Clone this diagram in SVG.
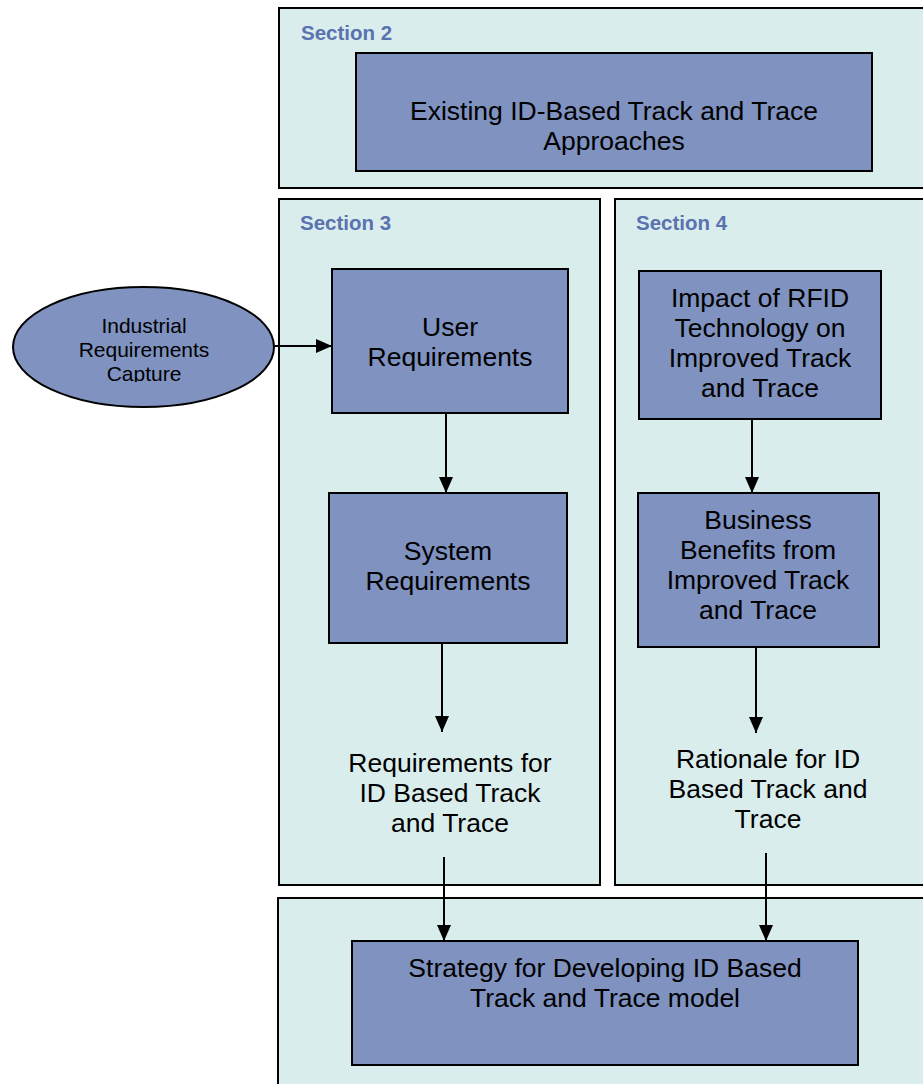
<svg xmlns="http://www.w3.org/2000/svg" width="923" height="1084" viewBox="0 0 923 1084">
<style>
.sec{fill:#d9eded;stroke:#000;stroke-width:2}
.box{fill:#7f92c0;stroke:#000;stroke-width:2}
.t{font-family:"Liberation Sans",Arial,sans-serif;font-size:26.5px;fill:#000;text-anchor:middle}
.ts{font-family:"Liberation Sans",Arial,sans-serif;font-size:21px;fill:#000;text-anchor:middle}
.st{font-family:"Liberation Sans",Arial,sans-serif;font-size:20.5px;font-weight:bold;fill:#5a72b0}
.c{stroke:#000;stroke-width:2;fill:none;marker-end:url(#ah)}
</style>
<defs>
<marker id="ah" viewBox="0 0 16 14" refX="16" refY="7" markerWidth="16" markerHeight="14" markerUnits="userSpaceOnUse" orient="auto">
<path d="M0,0 L16,7 L0,14 Z" fill="#000"/>
</marker>
<clipPath id="ec"><rect x="20" y="300" width="250" height="82"/></clipPath>
</defs>
<rect width="923" height="1084" fill="#fff"/>
<g id="section2">
<rect class="sec" x="279" y="8" width="660" height="180"/>
<text class="st" x="301" y="40">Section 2</text>
</g>
<g id="section3">
<rect class="sec" x="279" y="199" width="321" height="686"/>
<text class="st" x="300" y="230">Section 3</text>
</g>
<g id="section4">
<rect class="sec" x="615" y="199" width="330" height="686"/>
<text class="st" x="636" y="230">Section 4</text>
</g>
<g id="section5">
<rect class="sec" x="278" y="898" width="670" height="200"/>
</g>
<g id="existing">
<rect class="box" x="356" y="53" width="516" height="118"/>
<text class="t" x="614" y="120">Existing ID-Based Track and Trace</text>
<text class="t" x="614" y="150">Approaches</text>
</g>
<g id="industrial">
<ellipse class="box" cx="143.5" cy="347" rx="130.5" ry="60"/>
<g clip-path="url(#ec)">
<text class="ts" x="144" y="333">Industrial</text>
<text class="ts" x="144" y="357">Requirements</text>
<text class="ts" x="144" y="381">Capture</text>
</g>
</g>
<g id="user-req">
<rect class="box" x="332" y="269" width="236" height="144"/>
<text class="t" x="450" y="336">User</text>
<text class="t" x="450" y="366">Requirements</text>
</g>
<g id="system-req">
<rect class="box" x="329" y="493" width="238" height="150"/>
<text class="t" x="448" y="560">System</text>
<text class="t" x="448" y="590">Requirements</text>
</g>
<g id="req-idbased">
<text class="t" x="450" y="772">Requirements for</text>
<text class="t" x="450" y="802">ID Based Track</text>
<text class="t" x="450" y="832">and Trace</text>
</g>
<g id="impact">
<rect class="box" x="639" y="271" width="242" height="148"/>
<text class="t" x="760" y="307">Impact of RFID</text>
<text class="t" x="760" y="337">Technology on</text>
<text class="t" x="760" y="367">Improved Track</text>
<text class="t" x="760" y="397">and Trace</text>
</g>
<g id="business">
<rect class="box" x="638" y="493" width="241" height="154"/>
<text class="t" x="758" y="529">Business</text>
<text class="t" x="758" y="559">Benefits from</text>
<text class="t" x="758" y="589">Improved Track</text>
<text class="t" x="758" y="619">and Trace</text>
</g>
<g id="rationale">
<text class="t" x="768" y="768">Rationale for ID</text>
<text class="t" x="768" y="798">Based Track and</text>
<text class="t" x="768" y="828">Trace</text>
</g>
<g id="strategy">
<rect class="box" x="352" y="941" width="506" height="124"/>
<text class="t" x="605" y="977">Strategy for Developing ID Based</text>
<text class="t" x="605" y="1007">Track and Trace model</text>
</g>
<g id="connectors">
<path class="c" d="M274,346 L332,346"/>
<path class="c" d="M446,413 L446,493"/>
<path class="c" d="M442,643 L442,732"/>
<path class="c" d="M444,857 L444,941"/>
<path class="c" d="M752,419 L752,493"/>
<path class="c" d="M756,647 L756,733"/>
<path class="c" d="M766,853 L766,941"/>
</g>
</svg>
